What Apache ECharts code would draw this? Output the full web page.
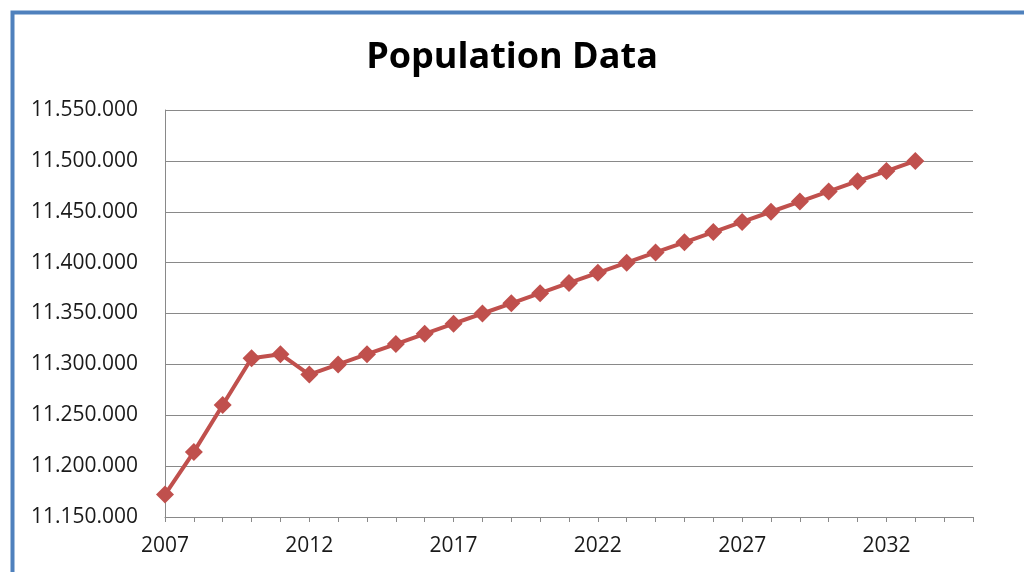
<!DOCTYPE html>
<html>
<head>
<meta charset="utf-8">
<title>Population Data</title>
<script src="https://cdn.jsdelivr.net/npm/echarts@6/dist/echarts.min.js"></script>
<style>
  html, body { margin: 0; padding: 0; background: #fff; }
  #chart { width: 1024px; height: 572px; }
</style>
</head>
<body>
<div id="chart"></div>
<script>
// Year categories along the x axis (axis runs two years past the last value)
const years = [
  '2007','2008','2009','2010','2011','2012','2013','2014','2015','2016',
  '2017','2018','2019','2020','2021','2022','2023','2024','2025','2026',
  '2027','2028','2029','2030','2031','2032','2033','2034','2035'
];

// Population per year, 2007–2033
const population = [
  11172000, 11214000, 11260000, 11306000, 11310000, 11290000, 11300000,
  11310000, 11320000, 11330000, 11340000, 11350000, 11360000, 11370000,
  11380000, 11390000, 11400000, 11410000, 11420000, 11430000, 11440000,
  11450000, 11460000, 11470000, 11480000, 11490000, 11500000
];

// Value axis range
const yMin = 11150000;
const yMax = 11550000;
const yStep = 50000;

const fontFamily = '"Open Sans", "Liberation Sans", sans-serif';

// Thousands separated by dots, e.g. 11.550.000
function dotted(v) {
  return String(Math.round(v)).replace(/\B(?=(\d{3})+(?!\d))/g, '.');
}

const chart = echarts.init(document.getElementById('chart'), null, { renderer: 'canvas' });

chart.setOption({
  backgroundColor: '#ffffff',
  animation: false,
  title: {
    text: 'Population Data',
    left: 'center',
    top: 35,
    textStyle: {
      fontFamily: fontFamily,
      fontWeight: 'bold',
      fontSize: 36,
      color: '#000000'
    }
  },
  graphic: [{
    type: 'rect',
    left: 10,
    top: 10,
    shape: { x: 0, y: 0, width: 1200, height: 800 },
    style: { fill: 'none', stroke: '#4F81BD', lineWidth: 4 },
    silent: true,
    z: 100
  }],
  grid: {
    left: 165,
    right: 51,
    top: 110,
    bottom: 55,
    containLabel: false
  },
  xAxis: {
    type: 'category',
    data: years,
    boundaryGap: false,
    axisLine: { show: true, lineStyle: { color: '#898989', width: 1 } },
    axisTick: {
      show: true,
      interval: 0,
      length: 5,
      inside: false,
      lineStyle: { color: '#898989' }
    },
    axisLabel: {
      interval: 4,
      margin: 19,
      fontFamily: fontFamily,
      fontSize: 21,
      color: '#1a1a1a'
    },
    splitLine: { show: false }
  },
  yAxis: {
    type: 'value',
    min: yMin,
    max: yMax,
    interval: yStep,
    axisLine: { show: true, lineStyle: { color: '#898989', width: 1 } },
    axisTick: { show: false },
    axisLabel: {
      margin: 27,
      fontFamily: fontFamily,
      fontSize: 21,
      color: '#1a1a1a',
      formatter: dotted
    },
    splitLine: { show: true, lineStyle: { color: '#898989', width: 1 } }
  },
  series: [{
    name: 'Population',
    type: 'line',
    data: population,
    symbol: 'diamond',
    symbolSize: 18,
    showAllSymbol: true,
    lineStyle: { color: '#C0504D', width: 4 },
    itemStyle: { color: '#C0504D' },
    clip: false
  }]
});
</script>
</body>
</html>
